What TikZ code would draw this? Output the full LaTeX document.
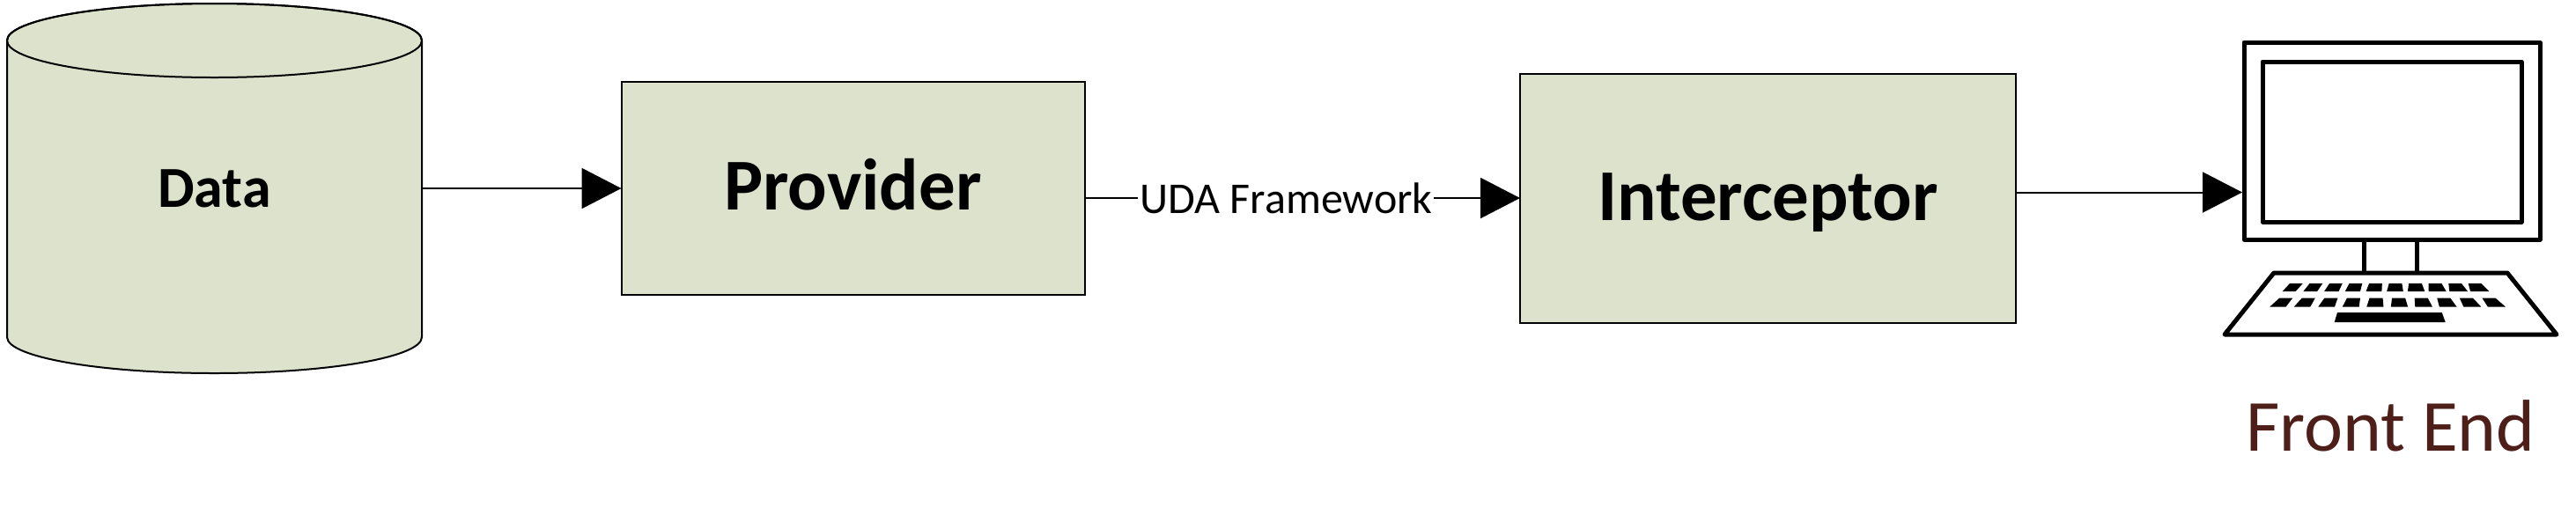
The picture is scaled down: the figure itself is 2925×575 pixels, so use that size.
\documentclass[tikz,border=0pt]{standalone}
\usepackage{fontspec}
\setmainfont{Carlito}
\usetikzlibrary{arrows.meta}
\definecolor{boxfill}{HTML}{DDE2CC}
\definecolor{frontbrown}{HTML}{4E1E19}
\tikzset{
  stagebox/.style={draw, line width=1pt, fill=boxfill, rectangle, outer sep=0pt, font=\fontsize{41.5}{41.5}\selectfont\bfseries},
  flow/.style={line width=1pt, -{Triangle[length=22.5pt,width=23pt]}},
  iconline/.style={line width=2.5pt, line join=round}
}
\begin{document}
\begin{tikzpicture}[x=0.5pt, y=-0.5pt]
  \useasboundingbox (0,0) rectangle (2925,575);

  % Data cylinder
  \draw[line width=1pt, fill=boxfill] (8,46) -- (8,383) arc[x radius=117.75pt, y radius=20.5pt, start angle=180, end angle=360]
    -- (479,46) arc[x radius=117.75pt, y radius=21pt, start angle=0, end angle=180] -- cycle;
  \draw[line width=1pt] (243.5,46) ellipse[x radius=117.75pt, y radius=21pt];
  \node[minimum width=235.5pt, outer sep=0pt, inner sep=0pt, font=\fontsize{33}{33}\selectfont\bfseries] (data) at (243.5,214) {Data};

  % Stages
  \node[stagebox, minimum width=263pt, minimum height=121pt, text height=24pt, text depth=0pt] (provider) at (968.5,214) {Provider};
  \node[stagebox, minimum width=281.5pt, minimum height=141.5pt, text height=25pt, text depth=0pt] (interceptor) at (2007.5,225) {Interceptor};

  % Monitor
  \node[draw, iconline, rectangle, outer sep=0pt, minimum width=168pt, minimum height=112pt] (monitor) at (2716,160) {};
  \node[draw, iconline, rectangle, outer sep=0pt, minimum width=147pt, minimum height=91pt] (screen) at (2716,161) {};
  \draw[iconline] (2684,272) -- (2684,310);
  \draw[iconline] (2744,272) -- (2744,310);

  % Keyboard
  \draw[iconline] (2582,310) -- (2847,310) -- (2903,380) -- (2526,380) -- cycle;
  \foreach \i in {0,...,9} {
    \fill (2600+22.53*\i,322) -- ++(14.7,0) -- (2591.7+23.7*\i+15+0.72*\i,331) -- (2591.7+23.7*\i,331) -- cycle;
    \fill (2588.3+25.56*\i,338.5) -- ++(15,0) -- (2577.3+27.5*\i+18.3+0.2*\i,348.5) -- (2577.3+27.5*\i,348.5) -- cycle;
  }
  \fill (2654,355) -- (2772.7,355) -- (2776.7,366) -- (2650.7,366) -- cycle;

  \node[text=frontbrown, font=\fontsize{41.7}{41.7}\selectfont, inner sep=0pt] (frontend) at (2714.5,484) {Front End};

  % Connectors
  \coordinate (screenin) at (2546,218.5);
  \draw[flow] (data.east) -- (provider.west);
  \draw[flow] (interceptor.west -| provider.east) -- node[fill=white, inner sep=1pt, pos=0.463, font=\fontsize{25}{25}\selectfont] (uda) {UDA Framework} (interceptor.west);
  \draw[flow] (screenin -| interceptor.east) -- (screenin);
\end{tikzpicture}
\end{document}
